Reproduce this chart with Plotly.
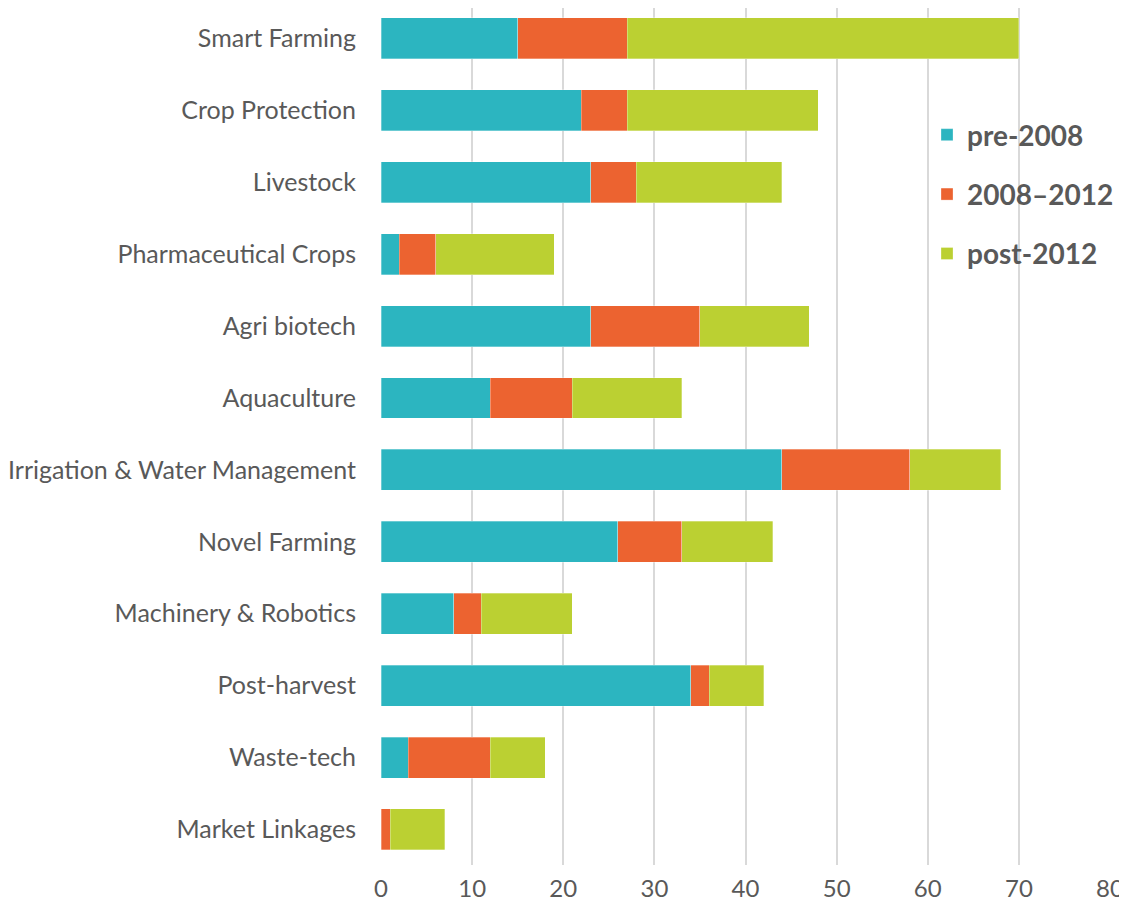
import plotly.graph_objects as go

categories = ["Smart Farming", "Crop Protection", "Livestock", "Pharmaceutical Crops",
              "Agri biotech", "Aquaculture", "Irrigation & Water Management", "Novel Farming",
              "Machinery & Robotics", "Post-harvest", "Waste-tech", "Market Linkages"]
pre_2008 = [15, 22, 23, 2, 23, 12, 44, 26, 8, 34, 3, 0]
y2008_2012 = [12, 5, 5, 4, 12, 9, 14, 7, 3, 2, 9, 1]
post_2012 = [43, 21, 16, 13, 12, 12, 10, 10, 10, 6, 6, 6]
series_names = ["pre-2008", "2008\u20132012", "post-2012"]
colors = ["#2CB5C0", "#EC6330", "#BBD032"]

fig = go.Figure()
for i, (name, vals, col) in enumerate(zip(series_names, [pre_2008, y2008_2012, post_2012], colors)):
    fig.add_trace(go.Bar(
        y=categories, x=vals, name=name, orientation="h",
        marker=dict(color=col, line=dict(color="rgba(255,255,255,0.6)", width=0.5)),
        legendgroup=f"g{i}",
    ))

fig.update_layout(
    barmode="stack",
    bargap=0.43,
    width=1119, height=906,
    margin=dict(l=373, r=17, t=0, b=49),
    plot_bgcolor="white", paper_bgcolor="white",
    font=dict(family="Lato", color="#595959", size=22),
    showlegend=True,
    legend=dict(
        x=0.749, y=0.881, xanchor="left", yanchor="top",
        traceorder="grouped", tracegroupgap=20,
        font=dict(size=28, color="#595959", family="Lato", weight="bold"),
        bgcolor="rgba(0,0,0,0)",
    ),
    xaxis=dict(
        range=[0, 80], dtick=10, showgrid=True, gridcolor="#D9D9D9", gridwidth=2,
        zeroline=False, showline=False, ticks="", tickfont=dict(size=24, color="#595959"),
        ticklabelstandoff=7, automargin=False,
    ),
    yaxis=dict(
        range=[11.495, -0.424], showgrid=False, zeroline=False, showline=False, ticks="",
        tickfont=dict(size=25, color="#595959"), ticklabelstandoff=24, automargin=False,
    ),
)

fig.write_html("out.html")
